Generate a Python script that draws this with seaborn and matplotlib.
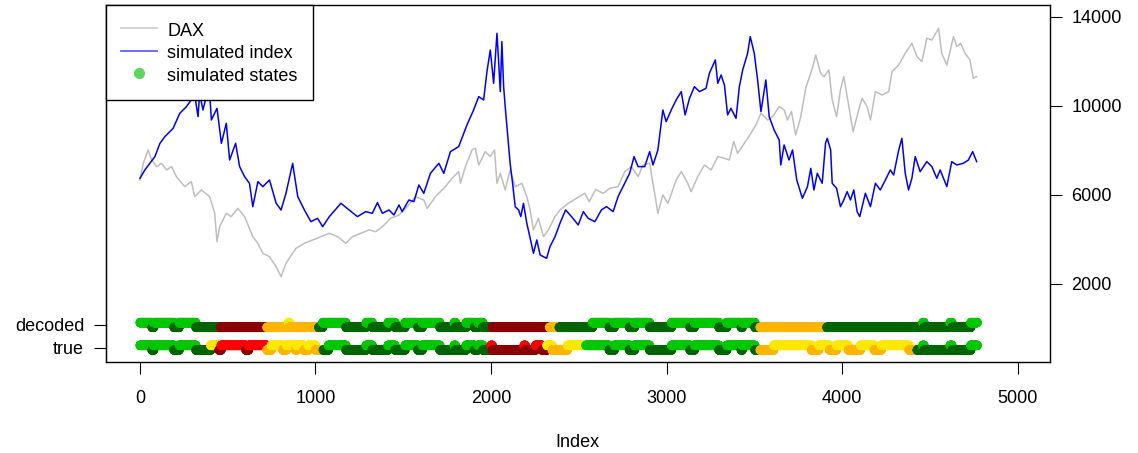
import numpy as np
import pandas as pd
import seaborn as sns
import matplotlib.pyplot as plt
from matplotlib.lines import Line2D

plt.rcParams['font.family'] = ['Liberation Sans', 'DejaVu Sans']

# DAX closing values
dax_idx = [0, 19, 47, 66, 95, 123, 151, 180, 208, 255, 293, 312, 350, 397, 426, 439, 454, 492, 520, 558,
           596, 643, 672, 700, 738, 776, 804, 832, 889, 937, 984, 1031, 1079, 1126, 1173, 1211, 1249, 1305,
           1343, 1381, 1428, 1476, 1523, 1570, 1617, 1636, 1684, 1740, 1778, 1816, 1826, 1854, 1892, 1911,
           1930, 1967, 1996, 2020, 2034, 2053, 2081, 2109, 2138, 2176, 2204, 2223, 2242, 2270, 2299, 2327,
           2365, 2393, 2440, 2488, 2535, 2560, 2596, 2639, 2677, 2724, 2762, 2800, 2838, 2866, 2904, 2923,
           2951, 2979, 3008, 3055, 3084, 3121, 3140, 3178, 3216, 3254, 3292, 3330, 3358, 3383, 3405, 3443,
           3481, 3509, 3538, 3576, 3604, 3642, 3670, 3689, 3712, 3736, 3765, 3793, 3831, 3850, 3878, 3897,
           3925, 3944, 3969, 3991, 4010, 4039, 4063, 4095, 4114, 4143, 4162, 4190, 4228, 4266, 4285, 4323,
           4360, 4398, 4427, 4455, 4483, 4512, 4550, 4568, 4597, 4635, 4654, 4676, 4701, 4729, 4748, 4767]
dax_val = [6675, 7424, 8023, 7573, 7274, 7424, 7124, 7274, 6824, 6375, 6600, 5926, 6226, 5926, 5177, 3903,
           4577, 5177, 5027, 5401, 5027, 4128, 3829, 3379, 3229, 2780, 2330, 2930, 3604, 3829, 3979, 4128,
           4278, 4128, 3829, 4128, 4250, 4428, 4353, 4577, 4952, 5102, 5476, 5926, 5776, 5401, 5926, 6375,
           6749, 7049, 6525, 7274, 8023, 8098, 7349, 7948, 7723, 8023, 6525, 6974, 6225, 7124, 6375, 6525,
           5926, 5327, 4428, 4952, 4128, 4428, 5027, 5327, 5626, 5851, 6075, 5700, 6250, 6075, 6300, 6375,
           7049, 7274, 6824, 7349, 7424, 6525, 5177, 6001, 5626, 6675, 7049, 6525, 6150, 6824, 7349, 7124,
           7723, 7648, 7573, 8398, 7873, 8322, 8772, 9146, 9671, 9371, 9521, 9970, 9821, 9371, 9746, 8697,
           9521, 10794, 11693, 12292, 11468, 11318, 11618, 10270, 9521, 10719, 11318, 9970, 8847, 9821,
           10345, 9970, 9371, 10645, 10495, 10645, 11543, 11843, 12367, 12816, 12217, 11993, 13041, 12966,
           13491, 12367, 11843, 13116, 12667, 12817, 12367, 12068, 11244, 11318]

# simulated index
sim_idx = [0, 28, 85, 114, 142, 189, 227, 265, 312, 331, 340, 359, 394, 407, 439, 464, 492, 511, 545, 568,
           596, 624, 643, 672, 700, 738, 776, 804, 832, 870, 899, 937, 974, 1012, 1041, 1079, 1145, 1192,
           1239, 1286, 1324, 1353, 1381, 1419, 1447, 1476, 1494, 1532, 1561, 1589, 1617, 1655, 1703, 1731,
           1769, 1816, 1863, 1901, 1930, 1958, 1977, 1996, 2015, 2034, 2043, 2053, 2062, 2072, 2081, 2096,
           2109, 2123, 2138, 2157, 2170, 2185, 2204, 2217, 2242, 2261, 2280, 2317, 2336, 2365, 2393, 2425,
           2459, 2497, 2526, 2554, 2592, 2629, 2658, 2696, 2724, 2762, 2790, 2815, 2838, 2876, 2904, 2923,
           2951, 2979, 2998, 3027, 3055, 3084, 3106, 3131, 3159, 3188, 3225, 3244, 3278, 3292, 3311, 3330,
           3348, 3367, 3396, 3415, 3434, 3462, 3477, 3500, 3519, 3538, 3566, 3585, 3613, 3642, 3651, 3670,
           3698, 3718, 3742, 3774, 3803, 3822, 3840, 3859, 3887, 3906, 3916, 3935, 3944, 3969, 3991, 4010,
           4029, 4048, 4067, 4086, 4101, 4133, 4162, 4190, 4218, 4247, 4275, 4294, 4323, 4341, 4360, 4379,
           4398, 4417, 4445, 4483, 4512, 4540, 4559, 4597, 4625, 4654, 4691, 4720, 4744, 4767]
sim_val = [6750, 7124, 7723, 8322, 8622, 8997, 9670, 9970, 10495, 9521, 10570, 9820, 10944, 9371, 9895,
           8322, 9221, 7573, 8322, 7274, 6824, 6525, 5476, 6600, 6375, 6675, 5626, 5326, 6075, 7424, 5926,
           5326, 4802, 4952, 4577, 5027, 5626, 5326, 5027, 5252, 5177, 5656, 5177, 5327, 5102, 5551, 5252,
           5776, 5701, 6450, 6075, 6974, 7424, 6974, 7948, 8173, 9147, 9820, 10420, 10270, 11543, 12517,
           11019, 13266, 12068, 10645, 12891, 10869, 9970, 8622, 7424, 6525, 5476, 5327, 5027, 5626, 4727,
           4278, 3379, 3979, 3304, 3154, 3679, 4128, 4727, 5327, 5027, 4652, 5252, 4950, 4802, 5327, 5476,
           5252, 5926, 6525, 6974, 7723, 7274, 7274, 7948, 7349, 8023, 9821, 9296, 9821, 10270, 10645, 9596,
           10345, 10869, 10645, 10794, 11468, 12068, 11019, 11393, 10944, 9596, 9896, 9446, 10869, 11618,
           12367, 13116, 12367, 11169, 9746, 11169, 9521, 8922, 8472, 7349, 8248, 7573, 8023, 6675, 5851,
           6375, 7199, 6225, 6974, 6525, 8323, 8547, 8023, 6525, 6300, 5476, 5776, 6150, 5776, 6225, 5252,
           5027, 6075, 5476, 6525, 6225, 6675, 7124, 6899, 8023, 8547, 6974, 6225, 6750, 7723, 7049, 7498,
           7274, 6750, 7124, 6375, 7498, 7349, 7424, 7573, 7948, 7498]

# hidden states as runs: start index of each run and its state
n_obs = 4770
decoded_starts = [0, 68, 78, 193, 223, 318, 458, 723, 845, 851, 1018, 1041, 1173, 1288, 1323, 1413, 1453,
                  1510, 1583, 1608, 1708, 1790, 1797, 1858, 1905, 1925, 1953, 2008, 2333, 2388, 2578, 2673,
                  2702, 2788, 2817, 2903, 3028, 3133, 3158, 3298, 3343, 3425, 3431, 3503, 3533, 3913, 4460,
                  4467, 4615, 4626, 4733]
decoded_states = ['lg', 'dg', 'lg', 'dg', 'lg', 'dg', 'dr', 'or', 'ye', 'or', 'dg', 'lg', 'dg', 'lg', 'dg',
                  'lg', 'dg', 'lg', 'dg', 'lg', 'dg', 'lg', 'dg', 'lg', 'dg', 'lg', 'dg', 'dr', 'or', 'dg',
                  'lg', 'dg', 'lg', 'dg', 'lg', 'dg', 'lg', 'dg', 'lg', 'dg', 'lg', 'dg', 'lg', 'dg', 'or',
                  'dg', 'lg', 'dg', 'lg', 'dg', 'lg']
true_starts = [0, 68, 78, 193, 223, 318, 403, 450, 462, 603, 618, 723, 748, 814, 834, 886, 892, 933, 958,
               1000, 1044, 1073, 1173, 1288, 1323, 1413, 1453, 1510, 1583, 1608, 1708, 1790, 1797, 1858, 1905,
               1925, 1953, 2000, 2007, 2188, 2195, 2253, 2290, 2318, 2348, 2435, 2540, 2673, 2702, 2788, 2817,
               2903, 3028, 3133, 3158, 3298, 3343, 3425, 3431, 3503, 3533, 3610, 3825, 3866, 3928, 3968, 4035,
               4104, 4183, 4223, 4381, 4427, 4460, 4467, 4615, 4626, 4733]
true_states = ['lg', 'dg', 'lg', 'dg', 'lg', 'dg', 'ye', 'dr', 'rd', 'dr', 'rd', 'or', 'ye', 'or', 'ye', 'or',
               'ye', 'or', 'ye', 'or', 'dg', 'lg', 'dg', 'lg', 'dg', 'lg', 'dg', 'lg', 'dg', 'lg', 'dg', 'lg',
               'dg', 'lg', 'dg', 'lg', 'dg', 'rd', 'dr', 'rd', 'dr', 'rd', 'dr', 'ye', 'or', 'ye', 'lg', 'dg',
               'lg', 'dg', 'lg', 'dg', 'lg', 'dg', 'lg', 'dg', 'lg', 'dg', 'lg', 'dg', 'or', 'ye', 'or', 'ye',
               'or', 'ye', 'or', 'ye', 'or', 'ye', 'or', 'dg', 'lg', 'dg', 'lg', 'dg', 'lg']

state_colors = {'lg': '#00C800', 'dg': '#006400', 'or': '#FFB400', 'ye': '#FFE800',
                'rd': '#FF0000', 'dr': '#8B0000'}
state_shift = {'lg': 105, 'ye': 105, 'rd': 105, 'dg': -105, 'or': -105, 'dr': -105}
row_level = {'decoded': 157, 'true': -863}


def expand(starts, states, row):
    ends = starts[1:] + [n_obs]
    rows = []
    for s, e, k in zip(starts, ends, states):
        for i in range(s, e):
            rows.append((i + 1, row_level[row] + state_shift[k], k))
    return rows


states_df = pd.DataFrame(expand(true_starts, true_states, 'true') +
                         expand(decoded_starts, decoded_states, 'decoded'),
                         columns=['t', 'y', 'state'])

fs = 13
fig = plt.figure(figsize=(11.38, 4.53), dpi=100)
ax = fig.add_axes([0.0929, 0.2009, 0.8298, 0.7881])

sns.lineplot(x=dax_idx, y=dax_val, color='#BEBEBE', lw=1.1, estimator=None, ax=ax)
sns.lineplot(x=sim_idx, y=sim_val, color='#0000FF', lw=1.1, estimator=None, ax=ax)
sns.scatterplot(data=states_df, x='t', y='y', hue='state', palette=state_colors, s=46,
                linewidth=0, legend=False, ax=ax)

ax.set_xlim(-195, 5185)
ax.set_ylim(-1506, 14539)
ax.set_xticks([0, 1000, 2000, 3000, 4000, 5000])
ax.yaxis.tick_right()
ax.set_yticks([2000, 6000, 10000, 14000])
ax.tick_params(axis='x', direction='out', length=8.5, width=0.8, labelsize=fs, pad=12)
ax.tick_params(axis='y', direction='out', length=8.5, width=0.8, labelsize=fs, pad=7)
ax.set_xlabel('Index', fontsize=fs, labelpad=19)
ax.set_ylabel('')
for sp in ax.spines.values():
    sp.set_color('black')
    sp.set_linewidth(1)

left = ax.secondary_yaxis('left')
left.set_yticks([157, -863], labels=['decoded', 'true'])
left.tick_params(direction='out', length=8.5, width=0.8, labelsize=fs, pad=7)

handles = [Line2D([], [], color='#D0D0D0', lw=1.3),
           Line2D([], [], color='#6060FF', lw=1.3),
           Line2D([], [], color='#5CD65C', marker='o', ls='none', markersize=7)]
leg = ax.legend(handles, ['DAX', 'simulated index', 'simulated states'], loc='upper left',
                bbox_to_anchor=(0, 1), borderaxespad=0, fontsize=fs, fancybox=False,
                framealpha=1, edgecolor='black', handlelength=2.0, handletextpad=0.55,
                handleheight=1.3, labelspacing=0.13, borderpad=0.85)
leg.get_frame().set_linewidth(1)

fig.savefig('out.png', dpi=100)
